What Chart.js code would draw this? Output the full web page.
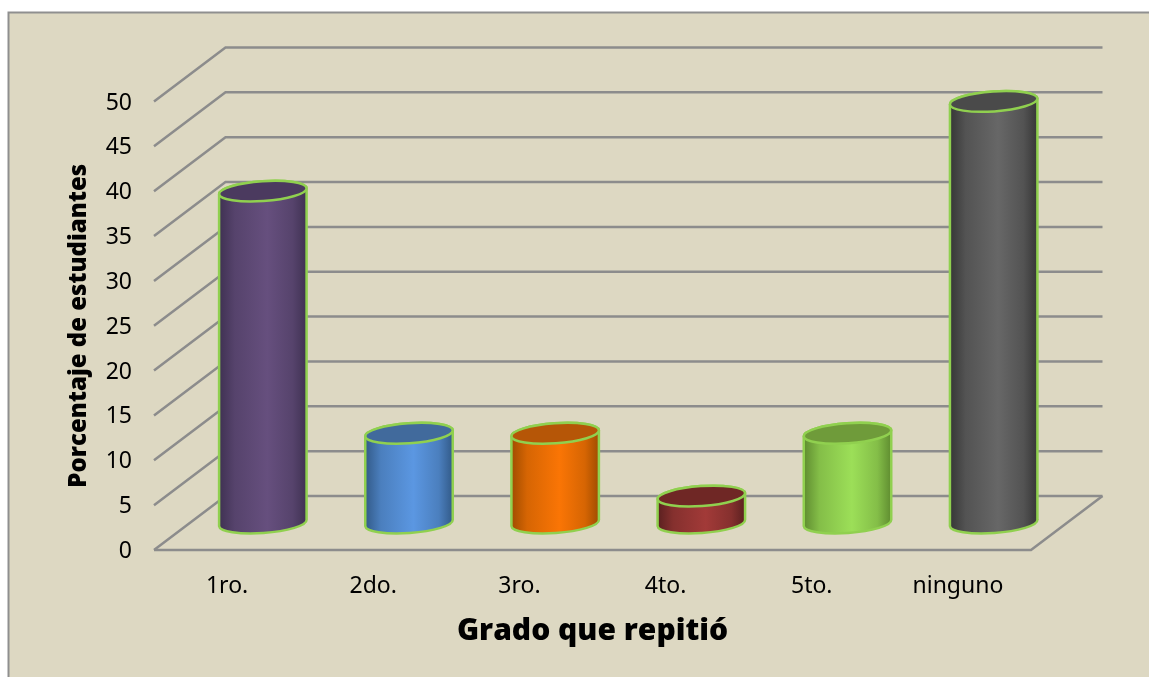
<!DOCTYPE html>
<html>
<head>
<meta charset="utf-8">
<style>
html,body{margin:0;padding:0;background:#fff;overflow:hidden}
#wrap{position:absolute;left:0;top:0;width:1149px;height:677px}
</style>
<script src="https://cdn.jsdelivr.net/npm/chart.js@4"></script>
</head>
<body>
<div id="wrap"><canvas id="c" width="1149" height="677"></canvas></div>
<script>
const categories = ["1ro.", "2do.", "3ro.", "4to.", "5to.", "ninguno"];
const values = [37, 10, 10, 3, 10, 47];
const edgeColors = ["#3f3152", "#325a88", "#a04c00", "#5a2020", "#5f8c30", "#363636"];
const midColors = ["#664f7e", "#5b97e2", "#fa7505", "#a23a38", "#9cdf58", "#676767"];
const capColors = ["#4b3a5f", "#416a9c", "#b65607", "#6f2725", "#6f9b3a", "#4a4a4a"];
const yTicks = [0, 5, 10, 15, 20, 25, 30, 35, 40, 45, 50];
const xTitle = "Grado que repitió";
const yTitle = "Porcentaje de estudiantes";

const DX = 71.5, DY = 54, TILT = -4 * Math.PI / 180, MINOR = 10;
const BG = "#DDD8C2", GRID = "#8c8c8c", OUTLINE = "#90d04f";

function mix(h1, h2, t) {
  const a = parseInt(h1.slice(1), 16), b = parseInt(h2.slice(1), 16);
  const ch = s => Math.round(((a >> s) & 255) * (1 - t) + ((b >> s) & 255) * t);
  return "rgb(" + ch(16) + "," + ch(8) + "," + ch(0) + ")";
}

const scene = {
  id: "scene",
  beforeDraw(chart) {
    const c = chart.ctx;
    c.save();
    c.fillStyle = BG;
    c.fillRect(8, 12, chart.width, chart.height);
    c.strokeStyle = "#8f8f8f";
    c.lineWidth = 2;
    c.beginPath();
    c.moveTo(8.5, chart.height + 5);
    c.lineTo(8.5, 12.5);
    c.lineTo(chart.width + 5, 12.5);
    c.stroke();
    c.restore();
  },
  beforeDatasetsDraw(chart) {
    const c = chart.ctx, y = chart.scales.y, x = chart.scales.x;
    const L = x.left, R = x.right;
    c.save();
    c.strokeStyle = GRID;
    c.lineWidth = 2.5;
    c.lineJoin = "miter";
    y.ticks.forEach(t => {
      const py = y.getPixelForValue(t.value);
      c.beginPath();
      c.moveTo(L, py);
      c.lineTo(L + DX, py - DY);
      c.lineTo(R + DX, py - DY);
      c.stroke();
    });
    const y0 = y.getPixelForValue(0);
    c.beginPath();
    c.moveTo(L, y0);
    c.lineTo(R, y0);
    c.lineTo(R + DX, y0 - DY);
    c.stroke();
    c.restore();
  },
  afterDatasetsDraw(chart) {
    const c = chart.ctx;
    const bars = chart.getDatasetMeta(0).data;
    bars.forEach((el, i) => {
      const p = el.getProps(["x", "y", "base", "width"], true);
      const cx = p.x + DX / 2, a = p.width / 2;
      const top = p.y - DY / 2, base = p.base - DY / 2;
      const g = c.createLinearGradient(cx - a, 0, cx + a, 0);
      const shoulder = mix(edgeColors[i], midColors[i], 0.6);
      g.addColorStop(0, edgeColors[i]);
      g.addColorStop(0.18, shoulder);
      g.addColorStop(0.55, midColors[i]);
      g.addColorStop(0.84, shoulder);
      g.addColorStop(1, edgeColors[i]);
      c.save();
      c.beginPath();
      c.ellipse(cx, base, a, MINOR, TILT, Math.PI, 0, true);
      c.ellipse(cx, top, a, MINOR, TILT, 0, Math.PI, true);
      c.closePath();
      c.fillStyle = g;
      c.fill();
      c.strokeStyle = OUTLINE;
      c.lineWidth = 2.5;
      c.stroke();
      c.beginPath();
      c.ellipse(cx, top, a, MINOR, TILT, 0, Math.PI * 2);
      c.fillStyle = capColors[i];
      c.fill();
      c.stroke();
      c.restore();
    });
  }
};

new Chart(document.getElementById("c"), {
  type: "bar",
  data: {
    labels: categories,
    datasets: [{
      data: values,
      backgroundColor: "rgba(0,0,0,0)",
      borderWidth: 0,
      categoryPercentage: 1,
      barPercentage: 0.6
    }]
  },
  options: {
    responsive: false,
    animation: false,
    layout: { padding: { top: 101.5, right: 118, bottom: 0, left: 0 } },
    plugins: { legend: { display: false }, tooltip: { enabled: false }, title: { display: false } },
    scales: {
      x: {
        grid: { display: false, drawTicks: false },
        border: { display: false },
        afterFit(s) { s.height = 127; },
        ticks: {
          color: "#000",
          padding: 23,
          maxRotation: 0,
          minRotation: 0,
          autoSkip: false,
          font: { family: "'Noto Sans'", size: 23 }
        },
        title: {
          display: true,
          text: xTitle,
          color: "#000",
          font: { family: "'Open Sans'", size: 30, weight: "800" },
          padding: { top: 0, bottom: 28 }
        }
      },
      y: {
        min: 0,
        max: 50,
        afterFit(s) { s.width = 154; },
        afterBuildTicks(s) { s.ticks = yTicks.map(v => ({ value: v })); },
        grid: { display: false, drawTicks: false },
        border: { display: false },
        ticks: {
          color: "#000",
          padding: 22,
          labelOffset: 1.5,
          font: { family: "'Noto Sans'", size: 23 }
        },
        title: {
          display: true,
          text: yTitle,
          color: "#000",
          font: { family: "'Open Sans'", size: 24, weight: "800" },
          padding: { top: 65, bottom: 0 }
        }
      }
    }
  },
  plugins: [scene]
});
</script>
</body>
</html>
